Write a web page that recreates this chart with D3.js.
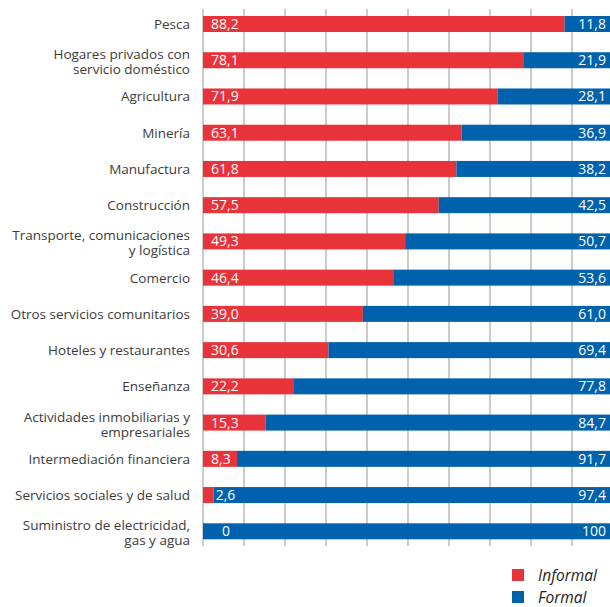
<!DOCTYPE html>
<html>
<head>
<meta charset="utf-8">
<script src="https://cdn.jsdelivr.net/npm/d3@7"></script>
<style>
  html, body { margin: 0; padding: 0; background: #fff; }
  svg { display: block; }
  text { font-family: "Open Sans", "Noto Sans", sans-serif; }
</style>
</head>
<body>
<svg id="chart" width="610" height="607"></svg>
<script>
// Sector names (each entry is a list of label lines)
const categories = [
  ["Pesca"],
  ["Hogares privados con", "servicio doméstico"],
  ["Agricultura"],
  ["Minería"],
  ["Manufactura"],
  ["Construcción"],
  ["Transporte, comunicaciones", "y logística"],
  ["Comercio"],
  ["Otros servicios comunitarios"],
  ["Hoteles y restaurantes"],
  ["Enseñanza"],
  ["Actividades inmobiliarias y", "empresariales"],
  ["Intermediación financiera"],
  ["Servicios sociales y de salud"],
  ["Suministro de electricidad,", "gas y agua"]
];

// Share of employment (%) by type
const informal = [88.2, 78.1, 71.9, 63.1, 61.8, 57.5, 49.3, 46.4, 39.0, 30.6, 22.2, 15.3, 8.3, 2.6, 0];
const formal   = [11.8, 21.9, 28.1, 36.9, 38.2, 42.5, 50.7, 53.6, 61.0, 69.4, 77.8, 84.7, 91.7, 97.4, 100];

const gridTicks = [0, 10, 20, 30, 40, 50, 60, 70, 80, 90, 100];
const seriesNames = ["Informal", "Formal"];
const colors = { Informal: "#e8333a", Formal: "#0061ad" };

const fmt = v => (v === 0 || v === 100) ? String(v) : v.toFixed(1).replace(".", ",");

const svg = d3.select("#chart");
const idx = d3.range(categories.length);

const x = d3.scaleLinear().domain([0, 100]).range([203, 613]);
const y = d3.scalePoint().domain(idx).range([24, 531.3]);
const barH = 16;

// Vertical gridlines
svg.append("g")
  .selectAll("line")
  .data(gridTicks)
  .join("line")
  .attr("x1", d => x(d)).attr("x2", d => x(d))
  .attr("y1", 9).attr("y2", 546)
  .attr("stroke", "#bfbfbf")
  .attr("stroke-width", 1.6);

// Stacked bars
const rows = svg.append("g").selectAll("g")
  .data(idx)
  .join("g");

rows.append("rect")
  .attr("x", i => x(0))
  .attr("y", i => y(i) - barH / 2)
  .attr("width", i => x(informal[i]) - x(0))
  .attr("height", barH)
  .attr("fill", colors.Informal);

rows.append("rect")
  .attr("x", i => x(informal[i]))
  .attr("y", i => y(i) - barH / 2)
  .attr("width", i => x(informal[i] + formal[i]) - x(informal[i]))
  .attr("height", barH)
  .attr("fill", colors.Formal);

// Value labels: informal inside the red segment, or just past it when it is too narrow
const informalLabelX = i => {
  const v = informal[i];
  if (v === 0) return x(0) + 19;
  if (v < 5) return x(v) + 2;
  return x(0) + 8;
};

rows.append("text")
  .attr("x", informalLabelX)
  .attr("y", i => y(i) + 5)
  .attr("fill", "#fff")
  .attr("font-size", 14)
  .text(i => fmt(informal[i]));

rows.append("text")
  .attr("x", x(100) - 7)
  .attr("y", i => y(i) + 5)
  .attr("text-anchor", "end")
  .attr("fill", "#fff")
  .attr("font-size", 14)
  .text(i => fmt(formal[i]));

// Category labels
const labels = svg.append("g").selectAll("text")
  .data(idx)
  .join("text")
  .attr("text-anchor", "end")
  .attr("fill", "#3c3c3c")
  .attr("font-size", 13.5)
  .attr("y", i => categories[i].length > 1 ? y(i) - 1 : y(i) + 5);

labels.selectAll("tspan")
  .data(i => categories[i])
  .join("tspan")
  .attr("x", 190)
  .attr("dy", (d, j) => j === 0 ? 0 : 15)
  .text(d => d);

// Legend
const legend = svg.append("g").selectAll("g")
  .data(seriesNames)
  .join("g")
  .attr("transform", (d, j) => `translate(512, ${569 + j * 22})`);

legend.append("rect")
  .attr("width", 12).attr("height", 12)
  .attr("fill", d => colors[d]);

legend.append("text")
  .attr("x", 26).attr("y", 11.5)
  .attr("font-size", 15.5)
  .attr("font-style", "italic")
  .attr("fill", "#222")
  .text(d => d);
</script>
</body>
</html>
